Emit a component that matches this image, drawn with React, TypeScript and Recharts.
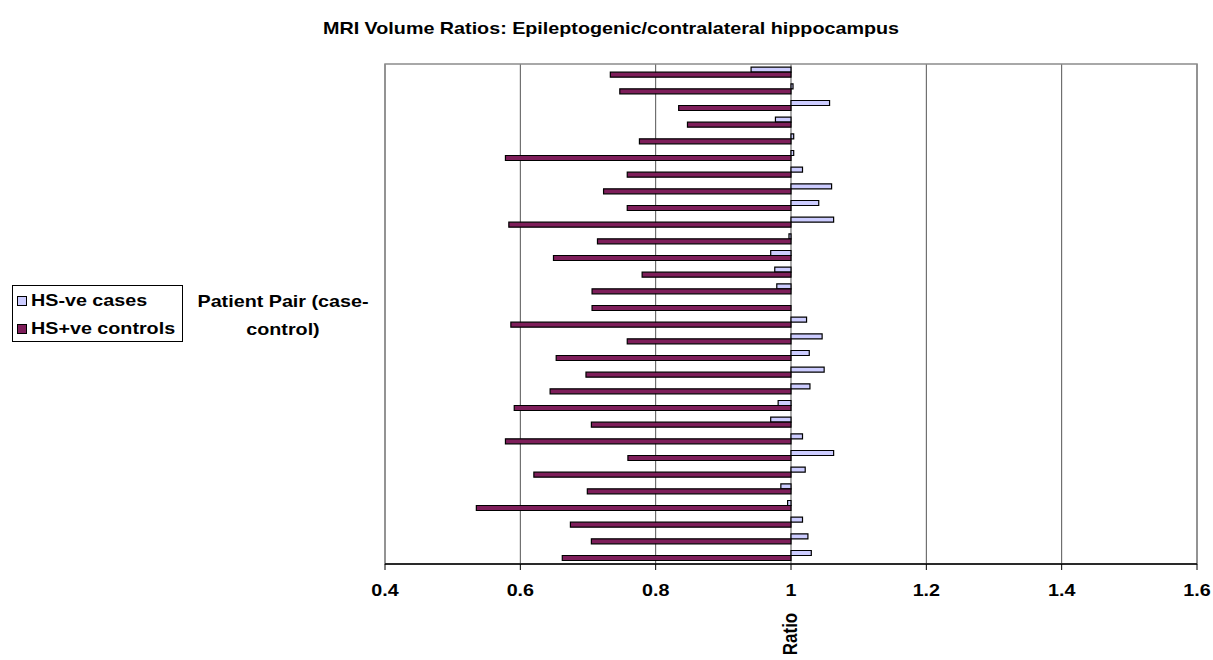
import React from "react";
import {
  BarChart,
  Bar,
  XAxis,
  YAxis,
  CartesianGrid,
  ReferenceArea,
} from "recharts";

// patient pairs, top to bottom
const pairs = [
  "1", "2", "3", "4", "5", "6", "7", "8", "9", "10",
  "11", "12", "13", "14", "15", "16", "17", "18", "19", "20",
  "21", "22", "23", "24", "25", "26", "27", "28", "29", "30",
];

// HS-ve cases (light bars)
const caseRatios = [
  0.941, 1.003, 1.057, 0.977, 1.004, 1.004, 1.017, 1.06, 1.041, 1.063,
  0.997, 0.97, 0.976, 0.979, 1.0, 1.023, 1.046, 1.027, 1.049, 1.028,
  0.981, 0.97, 1.017, 1.063, 1.021, 0.985, 0.995, 1.017, 1.025, 1.03,
];

// HS+ve controls (dark bars)
const controlRatios = [
  0.733, 0.747, 0.834, 0.847, 0.776, 0.578, 0.758, 0.723, 0.758, 0.583,
  0.714, 0.649, 0.78, 0.706, 0.706, 0.586, 0.758, 0.653, 0.697, 0.644,
  0.591, 0.705, 0.578, 0.759, 0.62, 0.699, 0.535, 0.674, 0.705, 0.662,
];

const xTicks = [0.4, 0.6, 0.8, 1, 1.2, 1.4, 1.6];

const BASE = 1;
const LIGHT = "#CCCCFF";
const DARK = "#7E1E5A";
const FONT = '"Liberation Sans", Arial, sans-serif';
const SIZE = 17;
const STRETCH = 1.16;

// bars grow from the ratio 1 line, so each one is a [low, high] range
const span = (v: number) => [Math.min(BASE, v), Math.max(BASE, v)];

const data = pairs.map((pair, i) => ({
  pair,
  cases: span(caseRatios[i]),
  controls: span(controlRatios[i]),
}));

const textStyle = { fontFamily: FONT, fontSize: SIZE, fontWeight: 700, fill: "#000" };

const XTick = ({ x, y, payload }: { x?: number; y?: number; payload?: { value: number } }) => (
  <g transform={`translate(${x},${y})`}>
    <text transform={`scale(${STRETCH},1)`} textAnchor="middle" dy={26} style={textStyle}>
      {String(payload?.value)}
    </text>
  </g>
);

const RatioLabel = ({ viewBox }: { viewBox?: { x: number; y: number; width: number } }) => {
  if (!viewBox) return null;
  const cx = viewBox.x + (viewBox.width * (BASE - 0.4)) / 1.2;
  return (
    <text
      transform={`translate(${cx + 6},${viewBox.y + 70}) scale(${STRETCH},1) rotate(-90)`}
      textAnchor="middle"
      style={textStyle}
    >
      Ratio
    </text>
  );
};

const legendItems = [
  { name: "HS-ve cases", color: LIGHT },
  { name: "HS+ve controls", color: DARK },
];

const stretched = (origin: string) => ({
  fontFamily: FONT,
  fontSize: SIZE,
  fontWeight: 700,
  lineHeight: "20px",
  whiteSpace: "nowrap" as const,
  transform: `scaleX(${STRETCH})`,
  transformOrigin: origin,
});

export default function App() {
  return (
    <div style={{ position: "absolute", left: 0, top: 0, width: 1213, height: 660, background: "#fff" }}>
      <div
        style={{
          position: "absolute",
          left: 0,
          width: 1222,
          top: 19,
          textAlign: "center",
          ...stretched("center"),
        }}
      >
        MRI Volume Ratios: Epileptogenic/contralateral hippocampus
      </div>

      <BarChart
        width={1213}
        height={660}
        data={data}
        layout="vertical"
        margin={{ top: 64, right: 16, bottom: 0, left: 385 }}
        barCategoryGap="19%"
        barGap={0}
      >
        <CartesianGrid horizontal={false} stroke="#555" />
        <ReferenceArea x1={0.4} x2={1.6} fill="none" stroke="#8c8c8c" strokeWidth={1.5} />
        <XAxis
          type="number"
          domain={[0.4, 1.6]}
          ticks={xTicks}
          interval={0}
          height={96}
          axisLine={{ stroke: "#000", strokeWidth: 1.5 }}
          tickLine={{ stroke: "#000" }}
          tickSize={6}
          tickMargin={0}
          tick={<XTick />}
          label={<RatioLabel />}
        />
        <YAxis type="category" dataKey="pair" width={0} tick={false} axisLine={false} tickLine={false} />
        <Bar dataKey="cases" name="HS-ve cases" fill={LIGHT} stroke="#000" strokeWidth={1.2} isAnimationActive={false} />
        <Bar dataKey="controls" name="HS+ve controls" fill={DARK} stroke="#000" strokeWidth={1.2} isAnimationActive={false} />
      </BarChart>

      {/* y axis title */}
      <div
        style={{
          position: "absolute",
          left: 183,
          width: 200,
          top: 288,
          textAlign: "center",
          ...stretched("center"),
          lineHeight: "28px",
        }}
      >
        Patient Pair (case-
        <br />
        control)
      </div>

      <div
        style={{
          position: "absolute",
          left: 12,
          top: 285,
          width: 169,
          height: 55,
          border: "1px solid #000",
          background: "#fff",
        }}
      >
        {legendItems.map((it, i) => (
          <div
            key={it.name}
            style={{ position: "absolute", left: 4, top: 5 + i * 28, display: "flex", alignItems: "center" }}
          >
            <span
              style={{
                display: "inline-block",
                width: 8,
                height: 8,
                border: "1px solid #000",
                background: it.color,
                marginRight: 4,
              }}
            />
            <span style={stretched("left")}>{it.name}</span>
          </div>
        ))}
      </div>
    </div>
  );
}
